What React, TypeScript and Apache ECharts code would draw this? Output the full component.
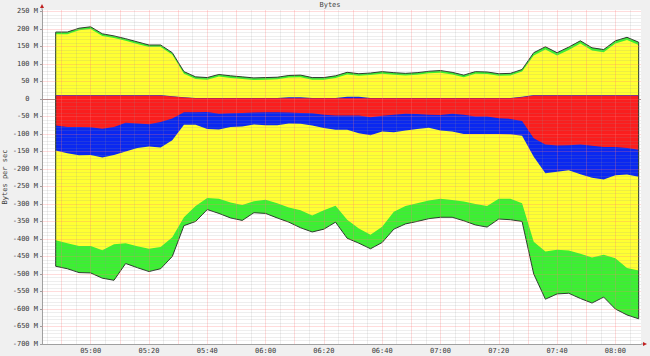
import React, { useEffect, useRef } from 'react';
import * as echarts from 'echarts';

// Sample times (4-minute steps)
const times = [
  '04:48', '04:52', '04:56', '05:00', '05:04', '05:08', '05:12', '05:16', '05:20', '05:24',
  '05:28', '05:32', '05:36', '05:40', '05:44', '05:48', '05:52', '05:56', '06:00', '06:04',
  '06:08', '06:12', '06:16', '06:20', '06:24', '06:28', '06:32', '06:36', '06:40', '06:44',
  '06:48', '06:52', '06:56', '07:00', '07:04', '07:08', '07:12', '07:16', '07:20', '07:24',
  '07:28', '07:32', '07:36', '07:40', '07:44', '07:48', '07:52', '07:56', '08:00', '08:04',
  '08:08',
];

// Inbound (positive) stack boundaries, in M
const inTotal = [
  191, 191, 202, 206, 186, 180, 172, 163, 154, 154,
  132, 78, 63, 61, 70, 66, 63, 60, 61, 62,
  67, 68, 61, 61, 66, 76, 72, 74, 78, 75,
  73, 75, 79, 81, 76, 68, 78, 77, 72, 73,
  84, 132, 149, 132, 148, 166, 146, 141, 166, 176,
  162,
];
const inYellowTop = [
  185, 185, 196, 200, 180, 174, 166, 157, 148, 148,
  126, 72, 57, 55, 64, 60, 57, 54, 55, 56,
  61, 62, 55, 55, 60, 70, 66, 68, 72, 69,
  67, 69, 73, 75, 70, 62, 72, 71, 66, 67,
  78, 124, 141, 124, 140, 158, 138, 133, 158, 168,
  154,
];
const inBlueTop = [
  11, 11, 11, 11, 11, 11, 11, 11, 11, 11,
  8, 5, 3, 3, 3, 3, 3, 3, 3, 3,
  5, 5, 3, 3, 3, 6, 6, 3, 3, 3,
  3, 3, 3, 3, 3, 3, 3, 3, 3, 3,
  6, 11, 11, 11, 11, 11, 11, 11, 11, 11,
  11,
];
const inRedTop = [
  10, 10, 10, 10, 10, 10, 10, 10, 10, 10,
  7, 4, 2, 2, 2, 2, 2, 2, 2, 2,
  2, 2, 2, 2, 2, 2, 2, 2, 2, 2,
  2, 2, 2, 2, 2, 2, 2, 2, 2, 2,
  5, 10, 10, 10, 10, 10, 10, 10, 10, 10,
  10,
];

// Outbound (negative) stack boundaries, in M
const outRed = [
  -76, -80, -80, -81, -85, -80, -68, -70, -72, -66,
  -56, -38, -38, -37, -42, -41, -40, -39, -38, -38,
  -39, -40, -41, -45, -47, -47, -47, -52, -48, -45,
  -42, -43, -45, -46, -42, -45, -50, -50, -55, -57,
  -63, -112, -130, -133, -132, -130, -134, -137, -137, -140,
  -145,
];
const outBlue = [
  -147, -155, -161, -160, -167, -160, -150, -140, -136, -139,
  -118, -74, -74, -86, -87, -80, -79, -73, -75, -75,
  -70, -71, -76, -83, -88, -88, -98, -104, -93, -95,
  -90, -86, -82, -90, -93, -100, -100, -100, -100, -101,
  -105, -165, -212, -208, -204, -215, -225, -230, -218, -216,
  -222,
];
const outYellow = [
  -404, -412, -420, -420, -432, -415, -412, -421, -428, -423,
  -395, -338, -306, -283, -285, -296, -303, -292, -288, -298,
  -310, -318, -333, -318, -305, -345, -370, -388, -365, -322,
  -306, -298, -290, -285, -289, -293, -300, -306, -285, -285,
  -298, -408, -436, -431, -433, -442, -453, -445, -455, -483,
  -490,
];
const outTotal = [
  -478, -485, -496, -497, -512, -518, -470, -482, -493, -485,
  -450, -362, -350, -316, -327, -340, -347, -325, -327, -340,
  -352, -368, -380, -372, -352, -398, -412, -428, -410, -372,
  -357, -350, -342, -338, -338, -348, -360, -366, -343, -345,
  -350, -500, -572, -557, -555, -570, -583, -566, -600, -617,
  -628,
];

// Axis tick labels
const xTickLabels = ['05:00', '05:20', '05:40', '06:00', '06:20', '06:40', '07:00', '07:20', '07:40', '08:00'];
const yTickValues = [250, 200, 150, 100, 50, 0, -50, -100, -150, -200, -250, -300, -350, -400, -450, -500, -550, -600, -650, -700];

const toMin = (s: string) => {
  const [h, m] = s.split(':').map(Number);
  return h * 60 + m;
};
const fmtMin = (v: number) => {
  const h = Math.floor(v / 60);
  const m = Math.round(v - h * 60);
  return `${String(h).padStart(2, '0')}:${String(m).padStart(2, '0')}`;
};

const FONT = 'DejaVu Sans Mono';
const C_GREEN = '#3cf032';
const C_YELLOW = '#ffff33';
const C_BLUE = '#0a28f0';
const C_RED = '#fa1e1e';
const C_LINE = '#2e3a2e';
const MINOR = 'rgba(150,150,150,0.16)';
const MAJOR = 'rgba(255,120,120,0.26)';

export default function App() {
  const ref = useRef<HTMLDivElement>(null);

  useEffect(() => {
    const chart = echarts.init(ref.current!, null, { renderer: 'svg' });
    const xs = times.map(toMin);
    const X_MIN = 283.3;
    const X_MAX = 488.8;
    const pairs = (arr: number[]) => arr.map((v, i) => [xs[i], v]);
    const closed = (arr: number[]) => [[xs[0], 0], ...pairs(arr), [xs[xs.length - 1], 0]];

    const area = (name: string, data: number[], color: string, z: number) => ({
      type: 'line',
      name,
      data: pairs(data),
      symbol: 'none',
      silent: true,
      lineStyle: { width: 0 },
      areaStyle: { color, opacity: 1 },
      z,
    });

    const vLines: any[] = [];
    for (let m = 285; m < X_MAX; m += 5) {
      vLines.push({ xAxis: m, lineStyle: { color: m % 10 === 0 ? MAJOR : MINOR } });
    }
    const hLines: any[] = [];
    for (let v = -690; v <= 250; v += 10) {
      hLines.push({ yAxis: v, lineStyle: { color: v % 50 === 0 ? MAJOR : MINOR } });
    }

    chart.setOption({
      animation: false,
      backgroundColor: '#f0f0f0',
      grid: {
        left: 42,
        right: 9,
        top: 10,
        bottom: 12,
        show: true,
        backgroundColor: '#ffffff',
        borderWidth: 0,
      },
      xAxis: {
        type: 'value',
        min: X_MIN,
        max: X_MAX,
        axisLine: { show: true, onZero: false, lineStyle: { color: '#a0a0a0', width: 1 } },
        axisTick: { show: false },
        splitLine: { show: false },
        axisLabel: {
          customValues: xTickLabels.map(toMin),
          formatter: (v: number) => fmtMin(v),
          fontFamily: FONT,
          fontSize: 7,
          color: '#3a3a3a',
          margin: 3,
        },
      },
      yAxis: {
        type: 'value',
        min: -700,
        max: 254,
        axisLine: { show: true, onZero: false, lineStyle: { color: '#a0a0a0', width: 1 } },
        axisTick: { show: true, customValues: yTickValues, length: 2, lineStyle: { color: '#a0a0a0' } },
        splitLine: { show: false },
        axisLabel: {
          customValues: yTickValues,
          formatter: (v: number) => (v === 0 ? '0\u00a0\u00a0' : `${v} M`),
          fontFamily: FONT,
          fontSize: 7,
          color: '#3a3a3a',
          margin: 4,
        },
      },
      series: [
        {
          type: 'line',
          data: [],
          silent: true,
          z: 1,
          markLine: {
            silent: true,
            symbol: ['none', 'none'],
            label: { show: false },
            z: 1,
            lineStyle: { color: '#9a9a9a', width: 1, type: 'solid' },
            data: [{ yAxis: 0 }],
          },
        },
        area('in-green', inTotal, C_GREEN, 2),
        area('in-yellow', inYellowTop, C_YELLOW, 3),
        area('in-blue', inBlueTop, C_BLUE, 4),
        area('in-red', inRedTop, C_RED, 5),
        area('out-green', outTotal, C_GREEN, 2),
        area('out-yellow', outYellow, C_YELLOW, 3),
        area('out-blue', outBlue, C_BLUE, 4),
        area('out-red', outRed, C_RED, 5),
        {
          type: 'line',
          data: closed(inTotal),
          symbol: 'none',
          silent: true,
          lineStyle: { color: C_LINE, width: 1 },
          z: 6,
        },
        {
          type: 'line',
          data: closed(outTotal),
          symbol: 'none',
          silent: true,
          lineStyle: { color: C_LINE, width: 1 },
          z: 6,
        },
        {
          type: 'line',
          data: [],
          silent: true,
          z: 8,
          markLine: {
            silent: true,
            symbol: ['none', 'none'],
            label: { show: false },
            z: 8,
            lineStyle: { width: 1, type: 'solid' },
            data: [...vLines, ...hLines],
          },
        },
      ],
      graphic: [
        {
          type: 'text',
          x: 330,
          y: 1,
          style: { text: 'Bytes', font: `7px "${FONT}"`, fill: '#444', textAlign: 'center', textVerticalAlign: 'top' },
        },
        {
          type: 'text',
          x: 5,
          y: 177,
          rotation: Math.PI / 2,
          style: { text: 'Bytes per sec', font: `7px "${FONT}"`, fill: '#3a3a3a', textAlign: 'center', textVerticalAlign: 'middle' },
        },
        { type: 'line', shape: { x1: 42, y1: 10, x2: 42, y2: 6 }, style: { stroke: '#a0a0a0', lineWidth: 1 } },
        { type: 'polygon', shape: { points: [[40, 8], [44, 8], [42, 4]] }, style: { fill: '#c02020' } },
        { type: 'line', shape: { x1: 641, y1: 344, x2: 645, y2: 344 }, style: { stroke: '#a0a0a0', lineWidth: 1 } },
        { type: 'polygon', shape: { points: [[643, 342], [643, 346], [647, 344]] }, style: { fill: '#c02020' } },
      ],
    });

    return () => chart.dispose();
  }, []);

  return <div ref={ref} style={{ position: 'fixed', left: 0, top: 0, width: 650, height: 356 }} />;
}
